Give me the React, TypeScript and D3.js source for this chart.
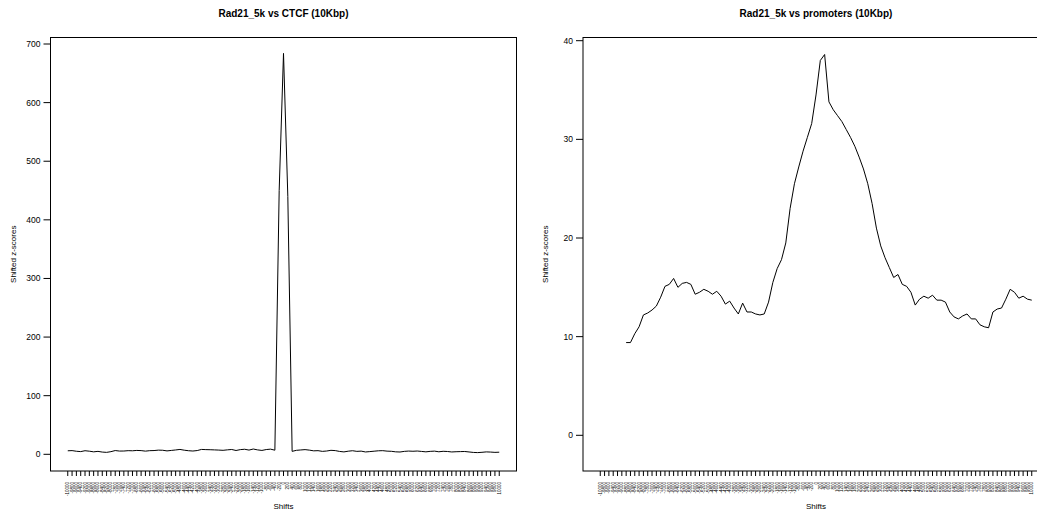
import React from "react";
import * as d3 from "d3";

const shifts: number[] = d3.range(-10000, 10001, 200);

const ctcfScores: number[] = [
  6.0, 6.3, 5.2, 4.6, 6.1, 5.3, 4.2, 5.0, 3.8, 3.3,
  4.5, 6.4, 5.5, 5.6, 6.2, 6.0, 6.6, 6.3, 5.4, 6.2,
  6.4, 7.1, 6.9, 5.8, 6.6, 7.4, 8.3, 7.0, 6.1, 5.6,
  6.4, 8.3, 8.0, 7.8, 7.5, 7.2, 6.8, 7.6, 8.2, 6.5,
  8.0, 8.6, 7.2, 9.0, 7.5, 6.6, 8.1, 8.8,
  7.0, 450, 684, 440, 5.0,
  6.8, 7.4, 8.0, 7.1, 5.9, 6.2, 5.0, 5.6,
  6.8, 6.3, 4.9, 4.1, 5.3, 6.1, 5.0, 5.4, 4.0, 4.6,
  5.3, 6.0, 6.2, 5.4, 5.1, 4.2, 3.9, 5.0, 5.5, 5.2,
  5.6, 4.9, 4.2, 5.0, 5.4, 4.3, 5.1, 4.8, 4.0, 4.4,
  4.6, 4.8, 4.0, 3.2, 2.9, 3.4, 4.1, 3.8, 3.3, 3.6,
];

const promoterScores: (number | null)[] = [
  null, null, null, null, null, null,
  9.4, 9.4, 10.3, 11.0, 12.2, 12.4, 12.7, 13.1, 14.0, 15.1,
  15.3, 15.9, 15.0, 15.4, 15.5, 15.3, 14.3, 14.5, 14.8, 14.6,
  14.3, 14.6, 14.1, 13.3, 13.6, 12.9, 12.3, 13.4, 12.5, 12.5,
  12.3, 12.2, 12.3, 13.5, 15.5, 16.9, 17.8, 19.5, 23.0, 25.5,
  27.2, 28.8, 30.2, 31.6, 34.5, 38.0, 38.6, 33.8, 33.0, 32.4,
  31.8, 31.0, 30.2, 29.3, 28.2, 27.0, 25.5, 23.5, 21.0, 19.2,
  18.0, 17.0, 16.0, 16.3, 15.3, 15.1, 14.5, 13.2, 13.8, 14.1,
  13.9, 14.2, 13.7, 13.7, 13.5, 12.5, 12.0, 11.8, 12.1, 12.3,
  11.8, 11.8, 11.2, 11.0, 10.9, 12.5, 12.8, 12.9, 13.8, 14.8,
  14.5, 13.9, 14.1, 13.8, 13.7,
];

const ctcfTicks: number[] = [0, 100, 200, 300, 400, 500, 600, 700];
const promoterTicks: number[] = [0, 10, 20, 30, 40];

const titles: string[] = ["Rad21_5k vs CTCF (10Kbp)", "Rad21_5k vs promoters (10Kbp)"];
const xLabel = "Shifts";
const yLabel = "Shifted z-scores";

type PanelProps = {
  title: string;
  values: (number | null)[];
  yTicks: number[];
  frameLeft: number;
  frameRight: number;
  yDomain: [number, number];
  yRange: [number, number];
  yLabelX: number;
};

const FONT = "Liberation Sans, Arial, Helvetica, sans-serif";
const FRAME_TOP = 37.5;
const FRAME_BOTTOM = 471;

function Panel({ title, values, yTicks, frameLeft, frameRight, yDomain, yRange, yLabelX }: PanelProps) {
  const x = d3.scaleLinear().domain([-10800, 10800]).range([frameLeft, frameRight]);
  const y = d3.scaleLinear().domain(yDomain).range(yRange);
  const line = d3
    .line<number | null>()
    .defined((d) => d !== null)
    .x((_, i) => x(shifts[i]))
    .y((d) => y(d as number));
  const cx = (frameLeft + frameRight) / 2;
  const cy = (FRAME_TOP + FRAME_BOTTOM) / 2;
  return (
    <g>
      <text x={cx} y={17} textAnchor="middle" fontFamily={FONT} fontWeight="bold" fontSize={10}>
        {title}
      </text>
      <rect
        x={frameLeft}
        y={FRAME_TOP}
        width={frameRight - frameLeft}
        height={FRAME_BOTTOM - FRAME_TOP}
        fill="none"
        stroke="#000"
        strokeWidth={1}
      />
      <path d={line(values) || ""} fill="none" stroke="#000" strokeWidth={1} />
      {yTicks.map((t) => (
        <g key={t}>
          <line x1={frameLeft - 7} x2={frameLeft} y1={y(t)} y2={y(t)} stroke="#000" />
          <text
            x={frameLeft - 10}
            y={y(t) + 3}
            textAnchor="end"
            fontFamily={FONT}
            fontSize={8.5}
            fill="#000"
          >
            {t}
          </text>
        </g>
      ))}
      {shifts.map((s) => (
        <g key={s}>
          <line x1={x(s)} x2={x(s)} y1={FRAME_BOTTOM} y2={FRAME_BOTTOM + 5} stroke="#000" />
          <text
            transform={`translate(${x(s) + 1.5},${FRAME_BOTTOM + 11}) rotate(-90)`}
            textAnchor="end"
            fontFamily={FONT}
            fontSize={4.5}
            fill="#000"
          >
            {s}
          </text>
        </g>
      ))}
      <text x={cx} y={509} textAnchor="middle" fontFamily={FONT} fontSize={8}>
        {xLabel}
      </text>
      <text
        transform={`translate(${yLabelX},${cy}) rotate(-90)`}
        textAnchor="middle"
        fontFamily={FONT}
        fontSize={8}
      >
        {yLabel}
      </text>
    </g>
  );
}

export default function App() {
  return (
    <svg
      width={1037}
      height={514}
      style={{ position: "absolute", left: 0, top: 0, background: "#fff" }}
    >
      <rect width={1037} height={514} fill="#fff" />
      <Panel
        title={titles[0]}
        values={ctcfScores}
        yTicks={ctcfTicks}
        frameLeft={50.5}
        frameRight={516.5}
        yDomain={[0, 700]}
        yRange={[454.3, 44]}
        yLabelX={16}
      />
      <Panel
        title={titles[1]}
        values={promoterScores}
        yTicks={promoterTicks}
        frameLeft={583}
        frameRight={1049}
        yDomain={[0, 40]}
        yRange={[435.3, 40.7]}
        yLabelX={548}
      />
    </svg>
  );
}
